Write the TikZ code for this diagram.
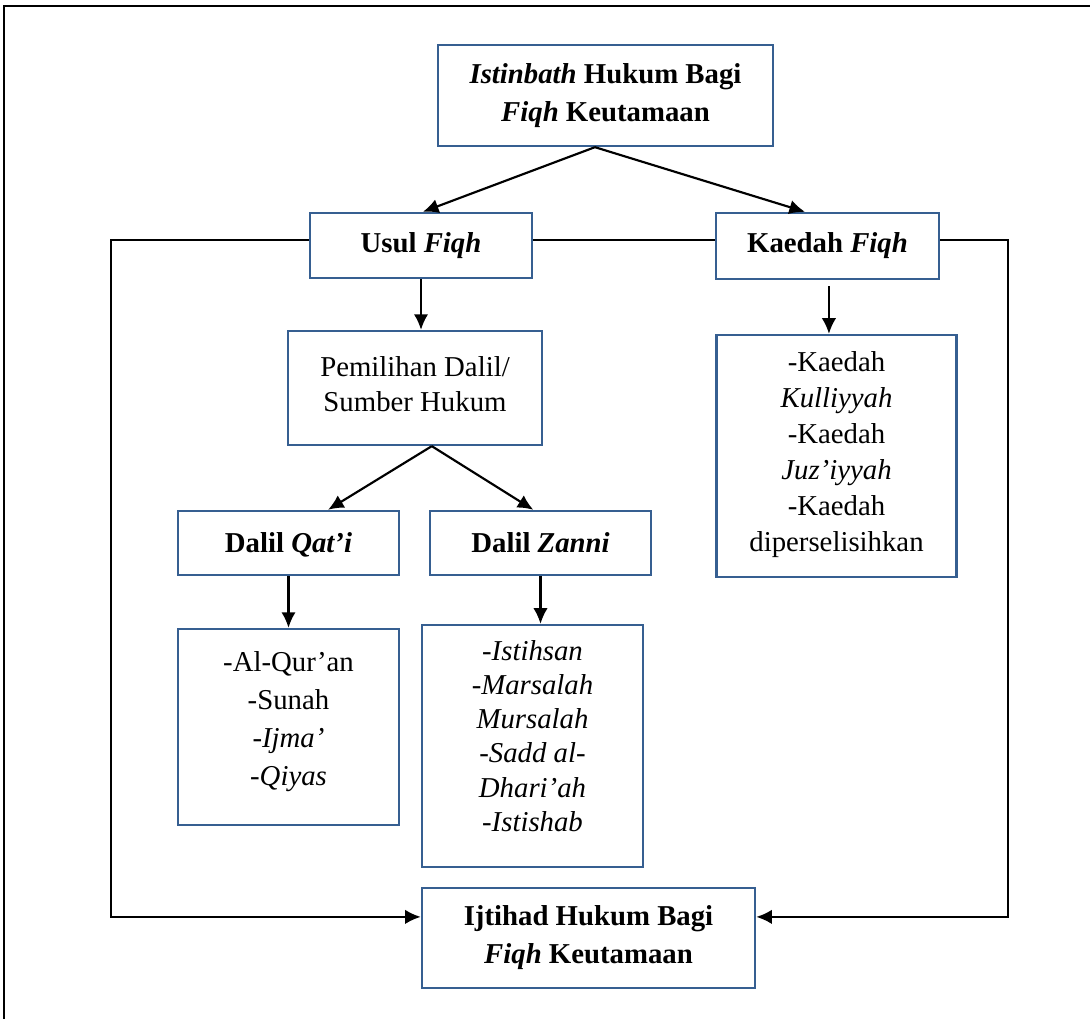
\documentclass[tikz,border=0pt]{standalone}
\usepackage{fontspec}
\setmainfont{Liberation Serif}
\usetikzlibrary{arrows.meta}
\definecolor{boxblue}{RGB}{54,95,145}

\begin{document}
\begin{tikzpicture}[x=0.417pt, y=-0.417pt]
  \tikzstyle{box}=[rectangle, draw=boxblue, line width=1pt, fill=white, align=center, inner sep=2pt, font=\fontsize{12}{15}\selectfont]
  \tikzstyle{head}=[box, font=\fontsize{12}{15.8}\selectfont\bfseries]
  \tikzstyle{connect}=[-{Latex[length=6.5pt, width=6pt]}, line width=0.9pt]
  \tikzstyle{link}=[line width=0.9pt]

  \useasboundingbox (0,0) rectangle (1090,1019);
  \draw[line width=1.1pt] (4,1019) -- (4,6) -- (1090,6);

  \node[head, minimum width=139.7pt, minimum height=42.1pt] (istinbath) at (605.5,95.5) {\textit{Istinbath} Hukum Bagi\\\textit{Fiqh} Keutamaan};
  \node[head, minimum width=92.6pt, minimum height=27.1pt] (usul) at (421,245.5) {Usul \textit{Fiqh}};
  \node[head, minimum width=93pt, minimum height=27.5pt] (kaedah) at (827.5,246) {Kaedah \textit{Fiqh}};
  \node[box, minimum width=105.9pt, minimum height=47.5pt, text depth=3.4pt, font=\fontsize{12}{14.3}\selectfont] (pemilihan) at (415,388) {Pemilihan Dalil/\\Sumber Hukum};
  \node[box, minimum width=100.1pt, minimum height=100.9pt, text depth=4pt] (kaedahlist) at (836.5,456) {-Kaedah\\\textit{Kulliyyah}\\-Kaedah\\\textit{Juz’iyyah}\\-Kaedah\\diperselisihkan};
  \node[head, minimum width=92.2pt, minimum height=26.7pt, text height=10.5pt, text depth=2.8pt] (qati) at (288.5,543) {Dalil \textit{Qat’i}};
  \node[head, minimum width=92.2pt, minimum height=26.7pt, text height=10.5pt, text depth=2.8pt] (zanni) at (540.5,543) {Dalil \textit{Zanni}};
  \node[box, minimum width=92.2pt, minimum height=81.7pt, text depth=6.8pt, font=\fontsize{12}{15.8}\selectfont] (qatilist) at (288.5,727) {-Al-Qur’an\\-Sunah\\\textit{-Ijma’}\\\textit{-Qiyas}};
  \node[box, minimum width=92.2pt, minimum height=100.9pt, text depth=8.5pt, font=\fontsize{12}{14.3}\selectfont\itshape] (zannilist) at (532.5,746) {-Istihsan\\-Marsalah\\Mursalah\\-Sadd al-\\Dhari’ah\\-Istishab};
  \node[head, minimum width=138.9pt, minimum height=41.7pt] (ijtihad) at (588.5,938) {Ijtihad Hukum Bagi\\\textit{Fiqh} Keutamaan};

  \coordinate (fork1) at ([xshift=-4.4pt]istinbath.south);
  \coordinate (fork2) at ([xshift=7pt]pemilihan.south);
  \coordinate (lcorner) at (111,240);
  \coordinate (rcorner) at (1008,240);

  \path (fork1) edge [connect] ([xshift=0.8pt]usul.north);
  \path (fork1) edge [connect] ([xshift=-9.4pt]kaedah.north);
  \draw[connect] (usul.south) -- (usul.south |- pemilihan.north);
  \draw[connect] ([xshift=0.6pt, yshift=-2.5pt]kaedah.south) -- ([xshift=0.6pt]kaedah.south |- kaedahlist.north);
  \path (fork2) edge [connect] ([xshift=16.5pt]qati.north);
  \path (fork2) edge [connect] ([xshift=-3pt]zanni.north);
  \draw[connect] (qati.south) -- (qati.south |- qatilist.north);
  \draw[connect] (zanni.south) -- (zanni.south |- zannilist.north);

  \draw[link] (usul.east |- lcorner) -- (kaedah.west |- lcorner);
  \draw[connect] (usul.west |- lcorner) -- (lcorner) |- ([yshift=8.8pt]ijtihad.west);
  \draw[connect] (kaedah.east |- rcorner) -- (rcorner) |- ([yshift=8.8pt]ijtihad.east);
\end{tikzpicture}
\end{document}
